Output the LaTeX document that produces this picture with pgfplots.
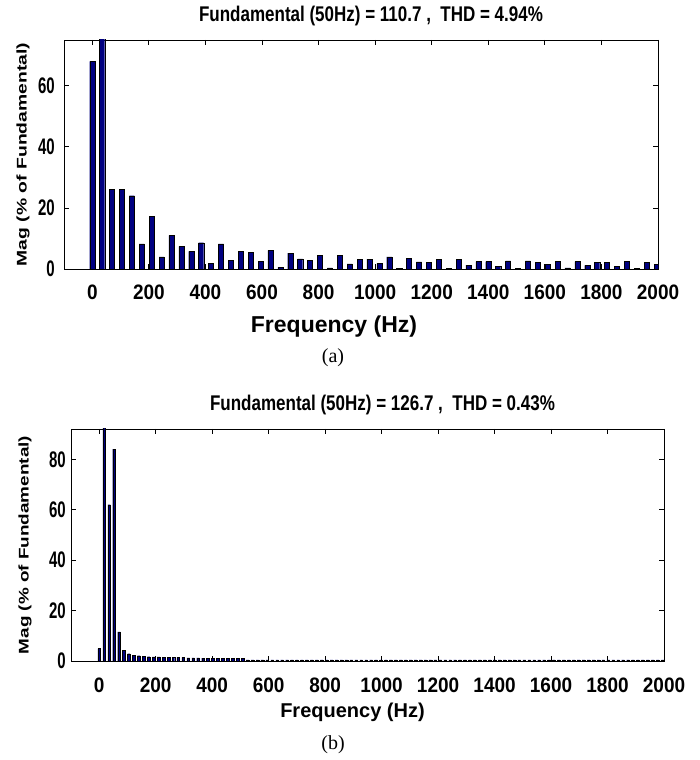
\documentclass[border=0pt]{standalone}
\usepackage{pgfplots}
\pgfplotsset{compat=1.18}
\usepackage{graphicx}
\usepackage{fontspec}
\setmainfont{Liberation Sans}
\newfontfamily\seriffont{Liberation Serif}
\definecolor{barnavy}{RGB}{0,0,128}

\pgfplotsset{
  spec/.style={
    scale only axis,
    ybar, bar shift=0pt,
    xmin=-100, xmax=2000, ymin=0,
    xtick={0,200,400,600,800,1000,1200,1400,1600,1800,2000},
    scaled x ticks=false, scaled y ticks=false,
    tick align=inside, major tick length=5pt,
    axis line style={black, line width=0.8pt},
    every tick/.style={black, line width=0.8pt},
    /pgf/number format/assume math mode=true,
    xticklabel={\scalebox{1}[1.1]{\pgfmathprintnumber[fixed,precision=0,1000 sep={}]{\tick}}},
    yticklabel={\scalebox{1}[1.5]{\pgfmathprintnumber[fixed,precision=0]{\tick}}},
    xticklabel style={font=\fontsize{19}{19}\selectfont\bfseries, anchor=north, inner sep=0pt},
    yticklabel style={font=\fontsize{15}{15}\selectfont\bfseries, anchor=east, inner sep=0pt},
    every axis title/.style={at={(axis description cs:0.5,1)}, anchor=center, inner sep=0pt,
      font=\fontsize{17}{17}\selectfont\bfseries},
    every axis x label/.style={at={(axis description cs:0.5,0)}, anchor=center, inner sep=0pt},
    every axis y label/.style={at={(axis description cs:0,0.5)}, anchor=center, rotate=90, inner sep=0pt},
  }
}

\begin{document}
\begin{tikzpicture}
\useasboundingbox (0,0) rectangle (699pt,760pt);
% ---------------- (a) ----------------
\begin{axis}[spec,
  at={(64pt,491pt)}, anchor=south west,
  width=594pt, height=229pt,
  ymax=75, ytick={0,20,40,60},
  bar width=18,
  xticklabel style={yshift=-16pt},
  yticklabel style={xshift=-9pt},
  title style={xshift=10pt, yshift=24pt},
  title={\scalebox{1}[1.25]{Fundamental (50Hz) = 110.7 ,\ \ THD = 4.94\%}},
  xlabel style={xshift=-27pt, yshift=-58pt, font=\fontsize{23}{23}\selectfont\bfseries},
  xlabel={Frequency (Hz)},
  ylabel style={yshift=41pt, font=\fontsize{14}{14}\selectfont\bfseries},
  ylabel={\scalebox{1.38}[1]{Mag (\% of Fundamental)}},
]
\addplot[draw=black, line width=0.4pt, fill=barnavy] coordinates {
(0,68) (35,100) (70,26) (105,26) (140,24) (175,8.2) (210,17.2) (245,4.0)
(280,11.0) (315,7.4) (350,5.8) (385,8.6) (420,1.8) (455,8.2) (490,2.9)
(525,5.7) (560,5.4) (595,2.5) (630,6.1) (665,0.5) (700,5.2) (735,3.3)
(770,2.8) (805,4.4) (840,0.4) (875,4.4) (910,1.7) (945,3.2) (980,3.2)
(1015,1.8) (1050,4.0) (1085,0.3) (1120,3.5) (1155,2.3) (1190,2.1) (1225,3.2)
(1260,0.3) (1295,3.2) (1330,1.3) (1365,2.4) (1400,2.4) (1435,0.8) (1470,2.7)
(1505,0.3) (1540,2.7) (1575,2.1) (1610,1.6) (1645,2.4) (1680,0.4) (1715,2.4)
(1750,1.2) (1785,2.1) (1820,2.1) (1855,0.8) (1890,2.4) (1925,0.3) (1960,2.1)
(1995,1.6)
};
\end{axis}
% ---------------- (b) ----------------
\begin{axis}[spec,
  at={(71pt,99pt)}, anchor=south west,
  width=593pt, height=232pt,
  ymax=92, ytick={0,20,40,60,80},
  bar width=9.5,
  xticklabel style={yshift=-17pt},
  yticklabel style={xshift=-5pt},
  title style={xshift=15pt, yshift=24pt},
  title={\scalebox{1}[1.25]{Fundamental (50Hz) = 126.7 ,\ \ THD = 0.43\%}},
  xlabel style={xshift=-15pt, yshift=-51pt, font=\fontsize{20}{20}\selectfont\bfseries},
  xlabel={Frequency (Hz)},
  ylabel style={yshift=46pt, font=\fontsize{14}{14}\selectfont\bfseries},
  ylabel={\scalebox{1.35}[1]{Mag (\% of Fundamental)}},
]
\addplot[draw=black, line width=0.3pt, fill=barnavy] coordinates {
(0,4.9) (17.5,100) (35,62) (52.5,84) (70,11.5) (87.5,4.3) (105,2.9) (122.5,2.2)
(140,2.1) (157.5,1.8) (175,1.7) (192.5,1.6) (210,1.6) (227.5,1.5) (245,1.5)
(262.5,1.4) (280,1.4) (297.5,1.4) (315,1.2) (332.5,1.2) (350,1.2) (367.5,1.1)
(385,1.1) (402.5,1.1) (420,1.1) (437.5,1.1) (455,1.0) (472.5,1.0) (490,1.0)
(507.5,1.0)
(525,0.4) (542.5,0.4) (560,0.4) (577.5,0.4) (595,0.4) (612.5,0.4) (630,0.4)
(647.5,0.4) (665,0.4) (682.5,0.4) (700,0.4) (717.5,0.4) (735,0.4) (752.5,0.4)
(770,0.4) (787.5,0.4) (805,0.4) (822.5,0.4) (840,0.4) (857.5,0.4) (875,0.4)
(892.5,0.4) (910,0.4) (927.5,0.4) (945,0.4) (962.5,0.4) (980,0.4) (997.5,0.4)
(1015,0.4) (1032.5,0.4) (1050,0.4) (1067.5,0.4) (1085,0.4) (1102.5,0.4)
(1120,0.4) (1137.5,0.4) (1155,0.4) (1172.5,0.4) (1190,0.4) (1207.5,0.4)
(1225,0.4) (1242.5,0.4) (1260,0.4) (1277.5,0.4) (1295,0.4) (1312.5,0.4)
(1330,0.4) (1347.5,0.4) (1365,0.4) (1382.5,0.4) (1400,0.4) (1417.5,0.4)
(1435,0.4) (1452.5,0.4) (1470,0.4) (1487.5,0.4) (1505,0.4) (1522.5,0.4)
(1540,0.4) (1557.5,0.4) (1575,0.4) (1592.5,0.4) (1610,0.4) (1627.5,0.4)
(1645,0.4) (1662.5,0.4) (1680,0.4) (1697.5,0.4) (1715,0.4) (1732.5,0.4)
(1750,0.4) (1767.5,0.4) (1785,0.4) (1802.5,0.4) (1820,0.4) (1837.5,0.4)
(1855,0.4) (1872.5,0.4) (1890,0.4) (1907.5,0.4) (1925,0.4) (1942.5,0.4)
(1960,0.4) (1977.5,0.4) (1995,0.4)
};
\end{axis}
% captions
\node[font=\seriffont\fontsize{20}{20}\selectfont, inner sep=0pt] at (333pt,402pt) {(a)};
\node[font=\seriffont\fontsize{20}{20}\selectfont, inner sep=0pt] at (333pt,15pt) {(b)};
\end{tikzpicture}
\end{document}
